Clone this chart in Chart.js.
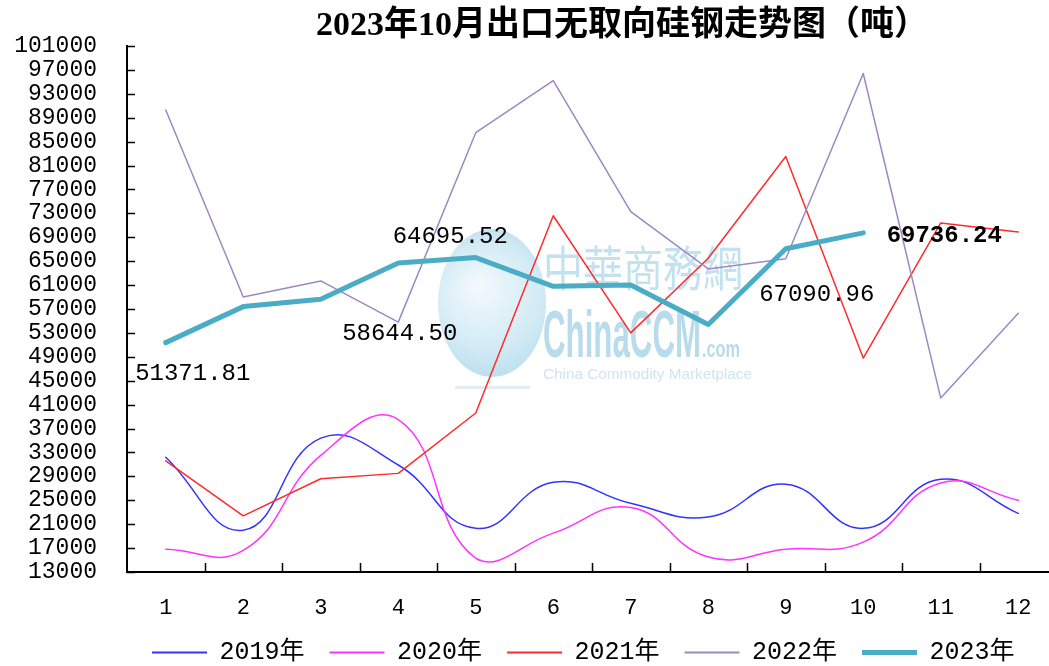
<!DOCTYPE html>
<html><head><meta charset="utf-8">
<script src="https://cdn.jsdelivr.net/npm/chart.js@4.4.0/dist/chart.umd.min.js"></script>
<style>
html,body{margin:0;padding:0;background:#fff;overflow:hidden;width:1049px;height:666px}
#wrap{position:relative;width:1058px;height:666px}
</style></head>
<body><div id="wrap"><canvas id="c" width="1058" height="666"></canvas></div>
<script>
const titleText = '2023年10月出口无取向硅钢走势图（吨）';
const months = ['1','2','3','4','5','6','7','8','9','10','11','12'];
const yTickValues = [13000,17000,21000,25000,29000,33000,37000,41000,45000,49000,53000,57000,61000,65000,69000,73000,77000,81000,85000,89000,93000,97000,101000];
const seriesNames = ['2019年','2020年','2021年','2022年','2023年'];
const s2019 = [32200,20000,35400,30900,20300,28000,24500,22200,27700,20300,28500,22800];
const s2020 = [16800,16600,32500,38500,15300,19500,23800,15500,16800,18000,27900,25000];
const s2021 = [31600,22400,28600,29500,39600,72600,53000,65500,82500,48800,71400,69900];
const s2022 = [90300,59000,61700,54800,86500,95200,73300,63700,65400,96400,42100,56300];
const s2023 = [51371.81,57400,58644.50,64695.52,65600,60800,61000,54400,67090.96,69736.24,null,null];
const labeled2023 = [0,2,3,8,9];

const MONO = '"Liberation Mono","Noto Sans CJK SC",monospace';

const watermark = {
  id:'watermark',
  beforeDatasetsDraw(chart){
    const ctx = chart.ctx; ctx.save();
    const g = ctx.createRadialGradient(478,285,4,492,303,85);
    g.addColorStop(0,'#f2f9fc'); g.addColorStop(0.6,'#d3ebf5'); g.addColorStop(1,'#b3dbec');
    ctx.fillStyle = g;
    ctx.beginPath(); ctx.ellipse(492,303,54,74,0,0,Math.PI*2); ctx.fill();
    ctx.fillStyle='#e3eef3'; ctx.fillRect(455,386,75,3);
    function fitText(t,x,y,w,font,color){
      ctx.font=font; ctx.fillStyle=color; ctx.textBaseline='alphabetic'; ctx.textAlign='left';
      const m=ctx.measureText(t).width; ctx.save(); ctx.translate(x,y); ctx.scale(w/m,1); ctx.fillText(t,0,0); ctx.restore();
    }
    fitText('中華商務網',543,286,200,'48px "Noto Sans CJK TC"','#c3e2ef');
    fitText('ChinaCCM',543,357,158,'bold 66px "Liberation Sans"','#b8dcec');
    fitText('.com',702,357,38,'bold 24px "Liberation Sans"','#b8dcec');
    fitText('China Commodity Marketplace',543,379,209,'15px "Liberation Sans"','#cde6f0');
    ctx.restore();
  }
};

const innerTicks = {
  id:'innerTicks',
  afterDraw(chart){
    const ctx=chart.ctx, x=chart.scales.x, y=chart.scales.y, a=chart.chartArea;
    ctx.save(); ctx.strokeStyle='#000'; ctx.lineWidth=1.5;
    y.ticks.forEach((t,i)=>{ const py=Math.round(y.getPixelForTick(i))+0.5; ctx.beginPath(); ctx.moveTo(a.left,py); ctx.lineTo(a.left+8,py); ctx.stroke(); });
    for(let i=0;i<months.length-1;i++){
      const px=Math.round((x.getPixelForValue(i)+x.getPixelForValue(i+1))/2)+0.5;
      ctx.beginPath(); ctx.moveTo(px,a.bottom); ctx.lineTo(px,a.bottom-9); ctx.stroke();
    }
    ctx.restore();
  }
};

const titlePlugin = {
  id:'titleText',
  afterDraw(chart){
    const ctx=chart.ctx; ctx.save();
    ctx.font='bold 34px "Liberation Serif","Noto Sans CJK SC",serif';
    ctx.fillStyle='#000'; ctx.textAlign='center'; ctx.textBaseline='middle';
    ctx.fillText(titleText,622,26);
    ctx.restore();
  }
};

const labelOffsets = {0:[27,31],2:[79,34],3:[52,-26],8:[31,46],9:[81,3]};
const valueLabels = {
  id:'valueLabels',
  afterDatasetsDraw(chart){
    const ctx=chart.ctx, meta=chart.getDatasetMeta(4); ctx.save();
    ctx.fillStyle='#000'; ctx.textAlign='center'; ctx.textBaseline='middle';
    labeled2023.forEach(i=>{
      const p=meta.data[i], o=labelOffsets[i];
      ctx.font=(i===9?'bold ':'')+'24px '+MONO;
      ctx.fillText(s2023[i].toFixed(2),p.x+o[0],p.y+o[1]);
    });
    ctx.restore();
  }
};

const colors = ['#3333ff','#ff33ff','#ff2b2b','#9d88c2','#4bacc6'];
const widths = [1.5,1.5,1.5,1.5,5];
const tensions = [0.45,0.45,0,0,0];
const seriesData = [s2019,s2020,s2021,s2022,s2023];

new Chart(document.getElementById('c'),{
  type:'line',
  data:{
    labels:months,
    datasets:seriesData.map((d,i)=>({
      label:seriesNames[i], data:d, borderColor:colors[i], backgroundColor:colors[i],
      borderWidth:widths[i], tension:tensions[i], pointRadius:0, fill:false, order:5-i,
      borderCapStyle:'round', borderJoinStyle:'round', spanGaps:false
    }))
  },
  options:{
    responsive:false, animation:false, devicePixelRatio:1,
    layout:{padding:{top:46,right:1,left:0,bottom:-9}},
    plugins:{
      title:{display:false}, tooltip:{enabled:false},
      legend:{
        position:'bottom', fullSize:false, align:'start',
        labels:{
          usePointStyle:true, pointStyleWidth:55, padding:25, color:'#000',
          font:{family:MONO,size:25},
          generateLabels(chart){
            return chart.data.datasets.map((ds,i)=>({
              text:ds.label, strokeStyle:ds.borderColor, fillStyle:ds.borderColor,
              lineWidth:i===4?5:2, pointStyle:'line', hidden:false, datasetIndex:i, fontColor:'#000'
            }));
          }
        }
      }
    },
    scales:{
      x:{
        type:'category', offset:true,
        grid:{display:false,drawTicks:false},
        border:{display:true,color:'#000',width:2},
        ticks:{padding:23,color:'#000',font:{family:MONO,size:22},maxRotation:0,autoSkip:false},
        afterFit(s){ s.height=43; }
      },
      y:{
        type:'linear', min:13000, max:101000,
        afterBuildTicks(s){ s.ticks=yTickValues.map(v=>({value:v})); },
        grid:{display:false,drawTicks:false},
        border:{display:true,color:'#000',width:2},
        ticks:{autoSkip:false,padding:30,color:'#000',font:{family:MONO,size:23},callback:v=>String(v)},
        afterFit(s){ s.width=127; }
      }
    }
  },
  plugins:[watermark,innerTicks,titlePlugin,valueLabels]
});
</script>
</body></html>
